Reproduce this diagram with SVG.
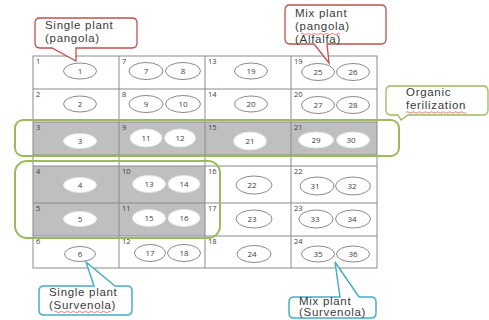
<svg xmlns="http://www.w3.org/2000/svg" width="489" height="320" viewBox="0 0 489 320">
<style>
.bg{fill:#ffffff}
.shade{fill:#bfbfbf}
.grid{fill:none;stroke:#8a8a8a;stroke-width:1}
.el{fill:#ffffff;stroke:#8a8a8a;stroke-width:1}
.elg{fill:#ffffff;stroke:#e6e6e6;stroke-width:1}
.num{font-family:"Open Sans","Liberation Sans",sans-serif;font-size:8px;fill:#404040;text-anchor:middle}
.lab{font-family:"Open Sans","Liberation Sans",sans-serif;font-size:7.5px;fill:#404040}
.grp{fill:none;stroke:#9bbb59;stroke-width:2}
.cr{fill:#ffffff;stroke:#c0504d;stroke-width:1.3}
.cg{fill:#ffffff;stroke:#9bbb59;stroke-width:1.3}
.cb{fill:#ffffff;stroke:#4bacc6;stroke-width:1.5}
.ct{font-family:"Liberation Sans",Arial,sans-serif;font-size:11.5px;letter-spacing:0.7px;fill:#3a3a3a}
.sq{fill:none;stroke:#e04040;stroke-width:0.7}
</style>
<rect class="bg" x="0" y="0" width="489" height="320"/>
<g id="shading">
<rect class="shade" x="33" y="122" width="344" height="33"/>
<rect class="shade" x="33" y="166" width="172" height="70"/>
</g>
<g id="grid">
<rect class="grid" x="33" y="56" width="344" height="212"/>
<path class="grid" d="M119,56V268M205,56V268M291,56V268M33,89H377M33,122H377M33,155H377M33,166H377M33,203H377M33,236H377"/>
</g>
<g id="cell1"><text class="lab" x="36" y="64">1</text><ellipse class="el" cx="80" cy="71" rx="16.5" ry="8"/><text class="num" x="80" y="74">1</text></g>
<g id="cell2"><text class="lab" x="36" y="97">2</text><ellipse class="el" cx="80" cy="104" rx="16.5" ry="8"/><text class="num" x="80" y="107">2</text></g>
<g id="cell3"><text class="lab" x="36" y="130">3</text><ellipse class="elg" cx="80" cy="141" rx="16.5" ry="7.5"/><text class="num" x="80" y="144">3</text></g>
<g id="cell4"><text class="lab" x="36" y="174">4</text><ellipse class="elg" cx="80" cy="185" rx="16.5" ry="7.5"/><text class="num" x="80" y="188">4</text></g>
<g id="cell5"><text class="lab" x="36" y="211">5</text><ellipse class="elg" cx="80" cy="219" rx="16.5" ry="7.5"/><text class="num" x="80" y="222">5</text></g>
<g id="cell6"><text class="lab" x="36" y="244">6</text><ellipse class="el" cx="80" cy="254" rx="15.5" ry="7.5"/><text class="num" x="80" y="257">6</text></g>

<g id="cell7"><text class="lab" x="122" y="64">7</text><ellipse class="el" cx="146" cy="71" rx="17" ry="8.5"/><text class="num" x="146" y="74">7</text><ellipse class="el" cx="183" cy="71" rx="17.5" ry="8.5"/><text class="num" x="183" y="74">8</text></g>
<g id="cell8"><text class="lab" x="122" y="97">8</text><ellipse class="el" cx="146" cy="104" rx="17" ry="8.5"/><text class="num" x="146" y="107">9</text><ellipse class="el" cx="183" cy="104" rx="17.5" ry="8.5"/><text class="num" x="183" y="107">10</text></g>
<g id="cell9"><text class="lab" x="122" y="130">9</text><ellipse class="elg" cx="146" cy="138" rx="16" ry="9"/><text class="num" x="146" y="141">11</text><ellipse class="elg" cx="180" cy="138" rx="15.5" ry="9"/><text class="num" x="180" y="141">12</text></g>
<g id="cell10"><text class="lab" x="122" y="174">10</text><ellipse class="elg" cx="149" cy="184" rx="16.5" ry="8.5"/><text class="num" x="149" y="187">13</text><ellipse class="elg" cx="184" cy="184" rx="16" ry="8.5"/><text class="num" x="184" y="187">14</text></g>
<g id="cell11"><text class="lab" x="122" y="211">11</text><ellipse class="elg" cx="149" cy="218" rx="16.5" ry="8.5"/><text class="num" x="149" y="221">15</text><ellipse class="elg" cx="184" cy="218" rx="16" ry="8.5"/><text class="num" x="184" y="221">16</text></g>
<g id="cell12"><text class="lab" x="122" y="244">12</text><ellipse class="el" cx="150" cy="253" rx="15.5" ry="8.5"/><text class="num" x="150" y="256">17</text><ellipse class="el" cx="184" cy="253" rx="16.5" ry="8.5"/><text class="num" x="184" y="256">18</text></g>

<g id="cell13"><text class="lab" x="208" y="64">13</text><ellipse class="el" cx="251" cy="71" rx="16.5" ry="8"/><text class="num" x="251" y="74">19</text></g>
<g id="cell14"><text class="lab" x="208" y="97">14</text><ellipse class="el" cx="251" cy="104" rx="16.5" ry="8"/><text class="num" x="251" y="107">20</text></g>
<g id="cell15"><text class="lab" x="208" y="130">15</text><ellipse class="elg" cx="250" cy="141" rx="16.5" ry="9"/><text class="num" x="250" y="144">21</text></g>
<g id="cell16"><text class="lab" x="208" y="174">16</text><ellipse class="el" cx="254" cy="185" rx="18" ry="9"/><text class="num" x="252" y="188">22</text></g>
<g id="cell17"><text class="lab" x="208" y="211">17</text><ellipse class="el" cx="254" cy="219" rx="18" ry="9"/><text class="num" x="252" y="222">23</text></g>
<g id="cell18"><text class="lab" x="208" y="244">18</text><ellipse class="el" cx="254" cy="254" rx="17" ry="8.5"/><text class="num" x="252" y="257">24</text></g>

<g id="cell19"><text class="lab" x="294" y="64">19</text><ellipse class="el" cx="318" cy="72" rx="16.5" ry="8.5"/><text class="num" x="318" y="75">25</text><ellipse class="el" cx="353" cy="72" rx="16.5" ry="8.5"/><text class="num" x="353" y="75">26</text></g>
<g id="cell20"><text class="lab" x="294" y="97">20</text><ellipse class="el" cx="318" cy="105" rx="16.5" ry="8.5"/><text class="num" x="318" y="108">27</text><ellipse class="el" cx="353" cy="105" rx="16.5" ry="8.5"/><text class="num" x="353" y="108">28</text></g>
<g id="cell21"><text class="lab" x="294" y="130">21</text><ellipse class="elg" cx="316" cy="140" rx="17.5" ry="8"/><text class="num" x="316" y="143">29</text><ellipse class="elg" cx="353" cy="140" rx="16.5" ry="8"/><text class="num" x="351" y="143">30</text></g>
<g id="cell22"><text class="lab" x="294" y="174">22</text><ellipse class="el" cx="317" cy="186" rx="17" ry="9"/><text class="num" x="315" y="189">31</text><ellipse class="el" cx="353" cy="186" rx="17.5" ry="9"/><text class="num" x="352" y="189">32</text></g>
<g id="cell23"><text class="lab" x="294" y="211">23</text><ellipse class="el" cx="316" cy="219" rx="17" ry="9"/><text class="num" x="315" y="222">33</text><ellipse class="el" cx="353" cy="219" rx="17.5" ry="9"/><text class="num" x="352" y="222">34</text></g>
<g id="cell24"><text class="lab" x="294" y="244">24</text><ellipse class="el" cx="318" cy="254" rx="16.5" ry="8"/><text class="num" x="318" y="257">35</text><ellipse class="el" cx="353" cy="254" rx="16.5" ry="8"/><text class="num" x="353" y="257">36</text></g>

<g id="group-organic-row"><rect class="grp" x="15" y="120" width="384" height="36" rx="8"/></g>
<g id="group-single-left"><rect class="grp" x="15" y="161" width="205" height="77" rx="12"/></g>

<g id="callout-single-pangola">
<path class="cr" d="M40,18H132Q137,18 137,23V43Q137,48 132,48H76V61L52,48H40Q35,48 35,43V23Q35,18 40,18Z"/>
<text class="ct" x="45" y="29">Single plant</text>
<text class="ct" x="45" y="42">(pangola)</text>
</g>
<g id="callout-mix-pangola">
<path class="cr" d="M290,5H381Q386,5 386,10V39Q386,44 381,44H327L329,63L314,44H290Q285,44 285,39V10Q285,5 290,5Z"/>
<text class="ct" x="295" y="17">Mix plant</text>
<text class="ct" x="295" y="30">(pangola)</text>
<text class="ct" x="295" y="43">(Alfalfa)</text>
<path class="sq" d="M301,34q1.5,-1.5 3,0t3,0t3,0t3,0t3,0t3,0t3,0t3,0t3,0t3,0t3,0t3,0t3,0"/>
</g>
<g id="callout-organic">
<path class="cg" d="M391,86H483Q488,86 488,91V110Q488,115 483,115H408L401,120L398,115H391Q386,115 386,110V91Q386,86 391,86Z"/>
<text class="ct" x="406" y="96">Organic</text>
<text class="ct" x="406" y="109">ferilization</text>
<path class="sq" d="M406,112.5q1.5,-1.5 3,0t3,0t3,0t3,0t3,0t3,0t3,0t3,0t3,0t3,0t3,0t3,0t3,0t3,0t3,0t3,0t3,0t3,0t3,0t3,0"/>
</g>
<g id="callout-single-survenola">
<path class="cb" d="M44,286H94L86,262L115,286H127Q132,286 132,291V310Q132,315 127,315H44Q39,315 39,310V291Q39,286 44,286Z"/>
<text class="ct" x="49" y="296">Single plant</text>
<text class="ct" x="49" y="309">(Survenola)</text>
<path class="sq" d="M54,312q1.5,-1.5 3,0t3,0t3,0t3,0t3,0t3,0t3,0t3,0t3,0t3,0t3,0t3,0t3,0t3,0t3,0t3,0t3,0t3,0t3,0"/>
</g>
<g id="callout-mix-survenola">
<path class="cb" d="M294,297H340L335,262L359,297H371Q376,297 376,302V313Q376,318 371,318H294Q289,318 289,313V302Q289,297 294,297Z"/>
<text class="ct" x="299" y="305">Mix plant</text>
<text class="ct" x="299" y="316">(Survenola)</text>
</g>
</svg>
